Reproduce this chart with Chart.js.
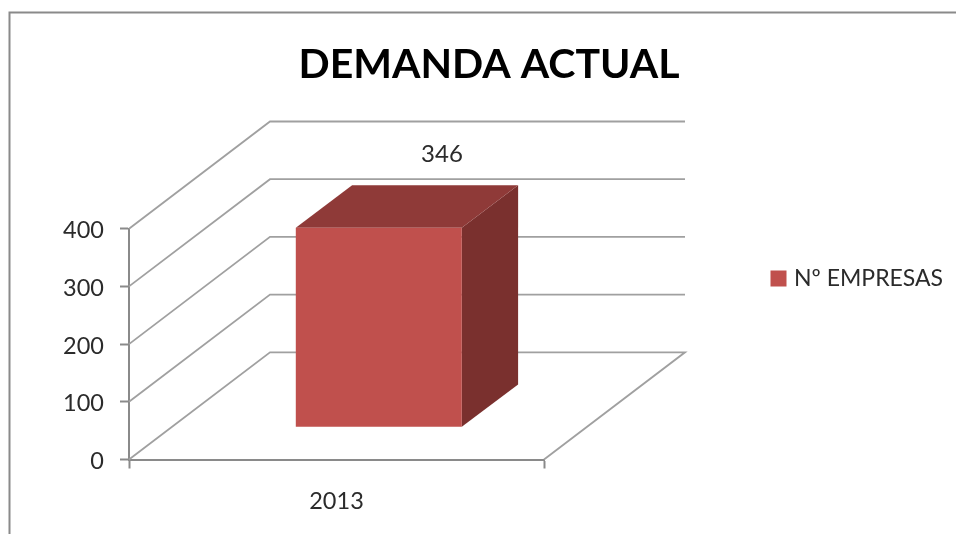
<!DOCTYPE html>
<html>
<head>
<meta charset="utf-8">
<style>html,body{margin:0;padding:0;background:#fff}#w{width:956px;height:534px;position:relative}</style>
<script src="https://cdn.jsdelivr.net/npm/chart.js@4"></script>
</head>
<body>
<div id="w"><canvas id="c" width="956" height="534"></canvas></div>
<script>
const categories = ["2013"];
const seriesName = "Nº EMPRESAS";
const seriesValues = [346];
const chartTitle = "DEMANDA ACTUAL";
const axisMin = 0, axisMax = 400, axisStep = 100;

const wallOffset = {x: 141, y: -107.2};
const barFloorOffset = {x: 42.3, y: -32.2};
const barDepth = {x: 56.3, y: -42.3};
const gridColor = "#a0a0a0", axisColor = "#8a8a8a", textColor = "#2b2b2b";
const barFront = "#C0504D", barTop = "#8F3A38", barSide = "#7A302E";

const scene3d = {
  id: "scene3d",
  afterLayout(chart) {
    chart.scales.y.getLabelItems(chart.chartArea).forEach(i => { i.textOffset += 2; });
  },
  beforeDraw(chart) {
    const c = chart.ctx;
    c.save();
    c.fillStyle = "#fff"; c.fillRect(0, 0, 956, 534);
    c.strokeStyle = "#8a8a8a"; c.lineWidth = 2;
    c.beginPath(); c.moveTo(9.5, 534); c.lineTo(9.5, 12.5); c.lineTo(956, 12.5); c.stroke();
    c.restore();
    const t = chart.titleBlock;
    t.left = 22; t.right = 956; t.top = 40.4; t.bottom = 90;
    const l = chart.legend;
    l.left = 770; l.right = 956; l.top = 262.5; l.bottom = 300; l.width = 186; l.height = 37.5;
  },
  beforeDatasetsDraw(chart) {
    const c = chart.ctx, ys = chart.scales.y, xs = chart.scales.x;
    c.save();
    c.strokeStyle = gridColor; c.lineWidth = 1.8;
    ys.ticks.forEach(t => {
      const y = ys.getPixelForValue(t.value);
      c.beginPath();
      c.moveTo(xs.left, y);
      c.lineTo(xs.left + wallOffset.x, y + wallOffset.y);
      c.lineTo(xs.right + wallOffset.x, y + wallOffset.y);
      if (t.value === axisMin) c.lineTo(xs.right, y);
      c.stroke();
    });
    c.restore();
  },
  beforeDatasetDraw(chart, args) {
    const c = chart.ctx, el = args.meta.data[0];
    const L = el.x - el.width / 2, R = el.x + el.width / 2, T = el.y, B = el.base;
    c.save();
    c.translate(barFloorOffset.x, barFloorOffset.y);
    c.fillStyle = barSide;
    c.beginPath();
    c.moveTo(R, T); c.lineTo(R + barDepth.x, T + barDepth.y);
    c.lineTo(R + barDepth.x, B + barDepth.y); c.lineTo(R, B); c.closePath(); c.fill();
    c.fillStyle = barTop;
    c.beginPath();
    c.moveTo(L, T); c.lineTo(L + barDepth.x, T + barDepth.y);
    c.lineTo(R + barDepth.x, T + barDepth.y); c.lineTo(R, T); c.closePath(); c.fill();
  },
  afterDatasetDraw(chart, args) {
    const c = chart.ctx, el = args.meta.data[0];
    c.restore();
    c.save();
    c.fillStyle = textColor;
    c.font = "24px Lato";
    c.textAlign = "center"; c.textBaseline = "middle";
    c.fillText(String(seriesValues[0]), el.x + 105.5, el.y - 106);
    c.restore();
  }
};

new Chart(document.getElementById("c"), {
  type: "bar",
  data: {
    labels: categories,
    datasets: [{
      label: seriesName, data: seriesValues, backgroundColor: barFront, borderWidth: 0,
      categoryPercentage: 1, barPercentage: 0.4, clip: false
    }]
  },
  plugins: [scene3d],
  options: {
    responsive: false, animation: false, devicePixelRatio: 1,
    layout: { autoPadding: false, padding: { left: 0, right: 412, top: 179.5, bottom: 0 } },
    plugins: {
      tooltip: { enabled: false },
      title: { display: true, text: chartTitle, color: "#000", padding: 0,
               font: { family: "Lato", size: 41, weight: "bold", lineHeight: 1.2 } },
      legend: {
        display: true, position: "chartArea", align: "start",
        labels: {
          color: textColor, padding: 4.5, boxWidth: 8, boxHeight: 8,
          font: { family: "Lato", size: 23 },
          generateLabels(chart) {
            return Chart.defaults.plugins.legend.labels.generateLabels(chart).map(i =>
              Object.assign(i, { lineWidth: 8, strokeStyle: barFront, fillStyle: barFront }));
          }
        }
      }
    },
    scales: {
      x: {
        afterFit(s) { s.height = 74.5; },
        offset: true,
        grid: { offset: true, drawOnChartArea: false, drawTicks: true, tickLength: 9, tickColor: axisColor, tickWidth: 2 },
        border: { display: true, color: axisColor, width: 2 },
        ticks: { color: textColor, padding: 19, maxRotation: 0, font: { family: "Lato", size: 23.5 } }
      },
      y: {
        afterFit(s) { s.width = 129; },
        min: axisMin, max: axisMax,
        grid: { drawOnChartArea: false, drawTicks: true, tickLength: 9, tickColor: axisColor, tickWidth: 2 },
        border: { display: true, color: axisColor, width: 2 },
        ticks: { stepSize: axisStep, color: textColor, padding: 16, font: { family: "Lato", size: 23.5 } }
      }
    }
  }
});
</script>
</body>
</html>
